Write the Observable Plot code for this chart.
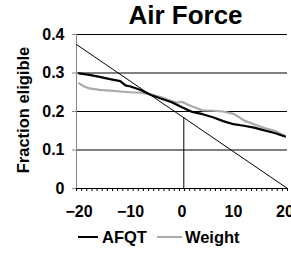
<!DOCTYPE html>
<html>
<head>
<meta charset="utf-8">
<script src="https://cdn.jsdelivr.net/npm/d3@7"></script>
<script src="https://cdn.jsdelivr.net/npm/@observablehq/plot@0.6"></script>
<style>
  body { margin: 0; background: #fff; font-family: "Liberation Sans", Arial, sans-serif; }
  #wrap { position: relative; width: 291px; height: 254px; overflow: hidden; }
  #title { position: absolute; left: 80px; top: 0; width: 211px; height: 30px; line-height: 30px;
           text-align: center; font-size: 26px; font-weight: bold; color: #000; }
  #ylabel { position: absolute; left: -57px; top: 100px; width: 160px; height: 20px; line-height: 20px;
            text-align: center; font-size: 16.5px; font-weight: bold; color: #000; transform: rotate(-90deg); }
  #legend { position: absolute; left: 78px; top: 227px; height: 20px; display: flex; align-items: center;
            font-size: 16.5px; font-weight: bold; color: #000; }
  .sw { display: inline-block; height: 2.5px; }
</style>
</head>
<body>
<div id="wrap">
  <div id="chart"></div>
  <div id="title">Air Force</div>
  <div id="ylabel">Fraction eligible</div>
  <div id="legend">
    <span class="sw" style="width:20px;background:#000;margin-right:4px"></span>
    <span>AFQT</span>
    <span class="sw" style="width:25px;background:#aaaaaa;margin-left:10px;margin-right:3px"></span>
    <span>Weight</span>
  </div>
</div>
<script>
// Data
const xs      = [-20, -18, -16, -14, -12, -11, -10, -8, -6, -4, -2, 0, 2, 4, 6, 8, 10, 12, 14, 16, 18, 20];
const afqtY   = [0.299, 0.295, 0.290, 0.284, 0.279, 0.268, 0.265, 0.256, 0.243, 0.233, 0.224, 0.211, 0.199, 0.193, 0.185, 0.175, 0.167, 0.163, 0.158, 0.151, 0.144, 0.135];
const wxs     = [-20, -19, -18, -16, -14, -12, -10, -8, -6, -4, -2, -1, 0, 1, 2, 4, 6, 8, 10, 11, 12, 14, 16, 18, 20];
const weightY = [0.273, 0.265, 0.260, 0.256, 0.254, 0.252, 0.250, 0.249, 0.244, 0.237, 0.227, 0.223, 0.225, 0.219, 0.213, 0.203, 0.202, 0.200, 0.194, 0.186, 0.177, 0.167, 0.157, 0.150, 0.137];
const diagX   = [-20.5, 20.5];
const diagY   = [0.374, 0];
const cutoffX = 0.35;
const cutoffTop = 0.184;
const xTickLabels = [-20, -10, 0, 10, 20];
const yTicks  = [0, 0.1, 0.2, 0.3, 0.4];
const gridY   = [0.1, 0.2, 0.3, 0.4];
const xDomain = [-20.5, 20.5];
const minorTicks = d3.range(-20.5, 20.51, 1);

const afqt = xs.map((x, i) => ({x, y: afqtY[i]}));
const weight = wxs.map((x, i) => ({x, y: weightY[i]}));
const diag = diagX.map((x, i) => ({x, y: diagY[i]}));

const chart = Plot.plot({
  width: 291,
  height: 254,
  marginTop: 34,
  marginBottom: 66,
  marginLeft: 76,
  marginRight: 4,
  style: { fontFamily: "'Liberation Sans', Arial, sans-serif", background: "transparent", overflow: "visible" },
  x: { domain: xDomain },
  y: { domain: [0, 0.4] },
  marks: [
    Plot.ruleY(gridY, { stroke: "#000", strokeWidth: 1 }),
    Plot.ruleX([xDomain[0]], { stroke: "#888", strokeWidth: 1 }),
    Plot.axisY({ ticks: yTicks, tickSize: 4, tickPadding: 8, label: null, stroke: "#888",
                 tickFormat: d => d === 0 ? "0" : d3.format(".1f")(d),
                 fontSize: 16, fontWeight: "bold", fill: "#000" }),
    Plot.axisX({ ticks: minorTicks, tickSize: 3, tickFormat: () => "", label: null, stroke: "#000" }),
    Plot.axisX({ ticks: xTickLabels, tickSize: 0, tickPadding: 17, label: null,
                 fontSize: 16, fontWeight: "bold", fill: "#000" }),
    Plot.line(weight, { x: "x", y: "y", stroke: "#aaaaaa", strokeWidth: 2.2 }),
    Plot.line(afqt, { x: "x", y: "y", stroke: "#000", strokeWidth: 2.2 }),
    Plot.line(diag, { x: "x", y: "y", stroke: "#000", strokeWidth: 1 }),
    Plot.ruleX([cutoffX], { y1: 0, y2: cutoffTop, stroke: "#000", strokeWidth: 1 }),
    Plot.ruleY([0], { stroke: "#000", strokeWidth: 1 })
  ]
});
document.getElementById("chart").appendChild(chart);
</script>
</body>
</html>
